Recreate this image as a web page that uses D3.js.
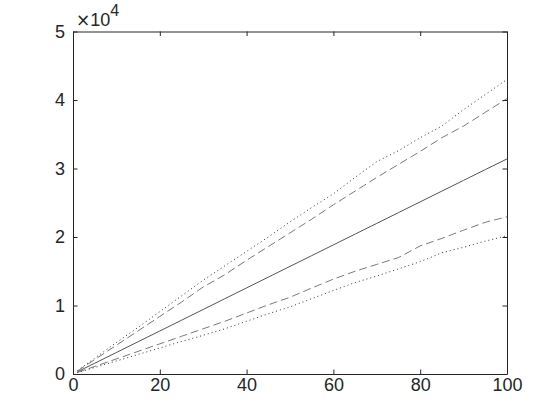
<!DOCTYPE html>
<html>
<head>
<meta charset="utf-8">
<script src="https://cdn.jsdelivr.net/npm/d3@7"></script>
<style>
  body { margin: 0; background: #fff; }
  svg { display: block; }
  text { font-family: "Liberation Sans", Arial, sans-serif; fill: #262626; }
</style>
</head>
<body>
<svg></svg>
<script>
var xs = [1, 5, 10, 15, 20, 25, 30, 35, 40, 45, 50, 55, 60, 65, 70, 75, 80, 85, 90, 95, 100]

// middle (solid) line
var mid = [310, 1570, 3140, 4710, 6280, 7850, 9420, 11000, 12570, 14140, 15710,
  17280, 18850, 20420, 21990, 23560, 25130, 26700, 28270, 29840, 31400]
// upper dashed / upper dotted
var upDash = [420, 2100, 4200, 6300, 8400, 10500, 12700, 14500, 16600, 18600, 20600,
  22600, 24700, 26700, 28700, 30600, 32500, 34500, 36200, 38200, 40200]
var upDot = [500, 2300, 4600, 6800, 9100, 11400, 13700, 15800, 17900, 20000, 22200,
  24300, 26300, 28700, 31000, 32600, 34500, 36200, 38600, 40800, 43000]
// lower dashed / lower dotted
var loDash = [230, 1100, 2200, 3300, 4400, 5500, 6600, 7700, 8900, 10100, 11200,
  12550, 13850, 15000, 16000, 17000, 18700, 19800, 21000, 22150, 22950]
var loDot = [200, 950, 1900, 2850, 3800, 4750, 5650, 6600, 7700, 8800, 9800,
  11000, 12200, 13350, 14300, 15350, 16400, 17700, 18500, 19400, 20200]

var xTicks = [0, 20, 40, 60, 80, 100]
var yTicks = [0, 10000, 20000, 30000, 40000, 50000]

var width = 560
var height = 420
var svg = d3.select("svg").attr("width", width).attr("height", height)

// MATLAB-like default axes position
var plotLeft = 73, plotRight = 507, plotTop = 31.5, plotBottom = 374

var x = d3.scaleLinear().domain([0, 100]).range([plotLeft, plotRight])
var y = d3.scaleLinear().domain([0, 50000]).range([plotBottom, plotTop])

var line = d3.line()
  .x((d, i) => x(xs[i]))
  .y(d => y(d))

var series = [
  { values: upDot, color: "#333", dash: "1,3" },
  { values: upDash, color: "#7a7a7a", dash: "8,4" },
  { values: mid, color: "#555", dash: null },
  { values: loDash, color: "#7a7a7a", dash: "8,4" },
  { values: loDot, color: "#333", dash: "1,3" }
]

svg.append("g")
  .selectAll("path")
  .data(series)
  .enter()
  .append("path")
  .attr("d", d => line(d.values))
  .attr("fill", "none")
  .attr("stroke", d => d.color)
  .attr("stroke-width", 1)
  .attr("stroke-dasharray", d => d.dash)

// axes, ticks pointing inward, box on
var tickLen = 4.5
var axisColor = "#262626"

svg.append("g")
  .attr("transform", "translate(0," + plotBottom + ")")
  .call(d3.axisBottom(x).tickValues(xTicks).tickSizeInner(-tickLen).tickSizeOuter(0).tickPadding(4))
svg.append("g")
  .attr("transform", "translate(0," + plotTop + ")")
  .call(d3.axisTop(x).tickValues(xTicks).tickSizeInner(-tickLen).tickSizeOuter(0).tickFormat(""))
svg.append("g")
  .attr("transform", "translate(" + plotLeft + ",0)")
  .call(d3.axisLeft(y).tickValues(yTicks).tickSizeInner(-tickLen).tickSizeOuter(0).tickPadding(8)
    .tickFormat(d => d / 10000))
svg.append("g")
  .attr("transform", "translate(" + plotRight + ",0)")
  .call(d3.axisRight(y).tickValues(yTicks).tickSizeInner(-tickLen).tickSizeOuter(0).tickFormat(""))

svg.selectAll(".domain, .tick line").attr("stroke", axisColor)
svg.selectAll(".tick text").attr("font-size", 18).attr("fill", axisColor)
  .style("font-family", "'Liberation Sans', Arial, sans-serif")

// exponent label
var expo = svg.append("text")
  .attr("x", 76)
  .attr("y", 26)
  .attr("font-size", 18)
expo.append("tspan").style("font-family", "'DejaVu Sans', sans-serif").attr("font-size", 17).text("\u00d7")
expo.append("tspan").text("10")
expo.append("tspan").attr("dy", -10).attr("font-size", 16).text("4")
</script>
</body>
</html>
